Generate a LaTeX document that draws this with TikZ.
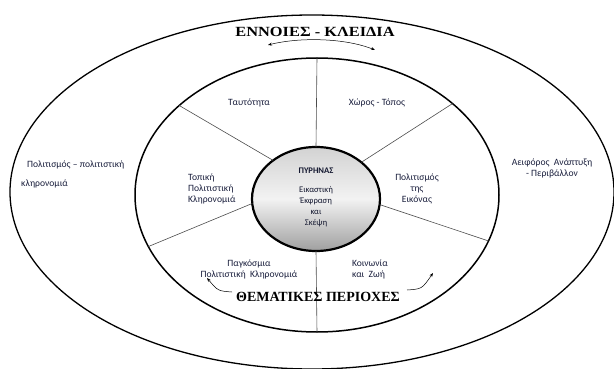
\documentclass[tikz,border=0pt]{standalone}
\usepackage{fontspec}
\setmainfont{Liberation Serif}
\newfontfamily\lblfont{Carlito}
\usetikzlibrary{shapes.geometric,arrows.meta}
\definecolor{lblc}{RGB}{25,30,60}
\begin{document}
\begin{tikzpicture}[x=1pt,y=-1pt,
  lbl/.style={font=\lblfont\fontsize{9.6}{11}\selectfont, text=lblc, inner sep=0pt, align=center},
  corelbl/.style={font=\lblfont\fontsize{8.6}{11}\selectfont, text=lblc!80!black, inner sep=0pt, align=center},
  titletxt/.style={font=\bfseries\fontsize{14}{16}\selectfont, inner sep=0pt},
  ring/.style={ellipse, draw, inner sep=0pt, outer sep=0pt},
  spoke/.style={draw=gray!60!black, line width=0.6pt},
  arr/.style={-{Stealth[length=4pt,width=3pt]}, line width=0.5pt}]
\useasboundingbox (0,0) rectangle (614,369);

% rings
\node[ring, line width=1.3pt, minimum width=604pt, minimum height=354pt] (outer) at (312,192) {};
\node[ring, line width=1.5pt, minimum width=364pt, minimum height=274pt] (middle) at (317,195) {};
\node[ring, line width=2.2pt, minimum width=128pt, minimum height=104pt,
      top color=gray!35, bottom color=gray!75, middle color=gray!10] (core) at (316,199) {};

% spokes
\draw[spoke] (core.90) -- (middle.90);
\draw[spoke] (core.270) -- (middle.270);
\draw[spoke] (core.138) -- (middle.147);
\draw[spoke] (core.39) -- (middle.34.7);
\draw[spoke] (core.184.5) -- (middle.197.3);
\draw[spoke] (core.355.6) -- (middle.345.3);

% core text
\node[corelbl] (coretxt) at (316,197) {\textbf{ΠΥΡΗΝΑΣ}\\[8pt]Εικαστική\\Έκφραση\\και\\Σκέψη};

% section labels
\node[lbl] (tayt) at (249,103) {Ταυτότητα};
\node[lbl] (xoros) at (377,103) {Χώρος - Τόπος};
\node[lbl, align=left, anchor=west] (topiki) at (188,189) {Τοπική\\Πολιτιστική\\Κληρονομιά};
\node[lbl] (polik) at (417,189) {Πολιτισμός\\της\\Εικόνας};
\node[lbl] (pagk) at (249,269) {Παγκόσμια\\Πολιτιστική\ \ Κληρονομιά};
\node[lbl, align=left, anchor=west] (koin) at (352,269) {Κοινωνία\\και\ \ Ζωή};

% outer labels
\node[lbl, anchor=west] (polit) at (27,165) {Πολιτισμός – πολιτιστική};
\node[lbl, anchor=west] (klir) at (21,184) {κληρονομιά};
\node[lbl] (aeif) at (552,168) {Αειφόρος\ \ Ανάπτυξη\\- Περιβάλλον};

% titles
\node[titletxt] (t1) at (315,32) {\scalebox{1.17}[1]{ΕΝΝΟΙΕΣ - ΚΛΕΙΔΙΑ}};
\node[titletxt] (t2) at (318,297) {ΘΕΜΑΤΙΚΕΣ ΠΕΡΙΟΧΕΣ};

% arrows
\coordinate (ta1) at (268,45);
\coordinate (ta2) at (375,50);
\draw[{Stealth[length=4pt,width=3pt]}-{Stealth[length=4pt,width=3pt]}, line width=0.5pt]
  (ta1) .. controls (300,37) and (345,38) .. (ta2);
\coordinate (lb1) at (232,292);
\coordinate (lb2) at (207,278);
\draw[arr] (lb1) .. controls (218,291) .. (lb2);
\coordinate (rb1) at (407,290);
\coordinate (rb2) at (433,273);
\draw[arr] (rb1) .. controls (422,289) .. (rb2);
\end{tikzpicture}
\end{document}
